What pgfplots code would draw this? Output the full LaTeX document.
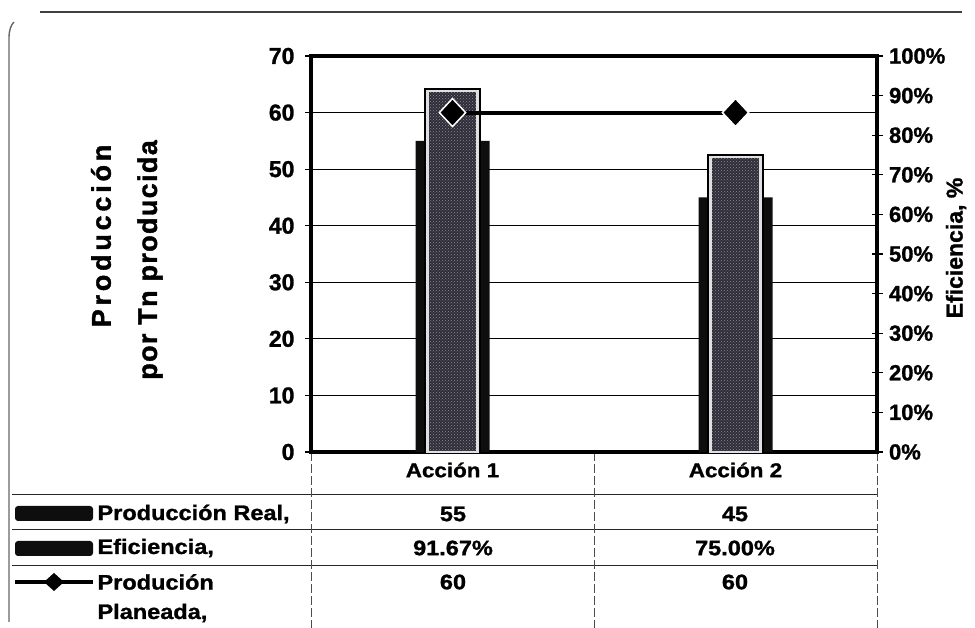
\documentclass[border=0pt]{standalone}
\usepackage{pgfplots}
\pgfplotsset{compat=1.18}
\usepackage{fontspec}
\setmainfont{Liberation Sans}
\newfontfamily\tblfont[FakeStretch=1.12, FakeBold=1.2]{Liberation Sans}
\newfontfamily\tckfont[FakeBold=1.2]{Liberation Sans}
\newfontfamily\ttlfont[LetterSpace=5, FakeBold=1.5]{Liberation Sans}
\newfontfamily\ttlfontw[LetterSpace=14, FakeBold=1.5]{Liberation Sans}
\usetikzlibrary{patterns}
\definecolor{effill}{HTML}{302D3B}
\definecolor{barblk}{HTML}{0E0E0E}
\begin{document}
\begin{tikzpicture}[x=1pt,y=1pt]
\useasboundingbox (0,0) rectangle (975,628);
% outer frame
\draw[line width=1.2pt, black!75] (40,616) -- (962,616);
\draw[line width=1.4pt, black!60] (9,6) -- (9,590) .. controls (9,598) and (11,603) .. (14,606);
% table lines
\draw[line width=1pt, black!85] (12,133) -- (877,133);
\draw[line width=1pt, black!85] (12,98) -- (877,98);
\draw[line width=1pt, black!85] (12,62) -- (877,62);
\foreach \xx in {311,594,877} {\draw[line width=0.8pt, black!70, dash pattern=on 9pt off 3pt] (\xx,176) -- (\xx,0);}
% axis 1: left scale, black bars
\begin{axis}[at={(311pt,176pt)}, anchor=south west, scale only axis,
  width=566pt, height=396pt,
  xmin=-0.5, xmax=1.5, ymin=0, ymax=70,
  xtick={0,1}, xticklabels={Acción 1, Acción 2},
  xtick pos=bottom, ytick pos=left,
  x tick style={draw=none},
  ytick={0,10,...,70},
  tick align=outside, major tick length=6pt,
  y tick style={line width=1.2pt, black},
  ymajorgrids, grid style={black, line width=1pt},
  axis line style={line width=3.5pt, black},
  yticklabel style={font=\tckfont\fontsize{23}{23}\selectfont\bfseries, xshift=-7pt},
  xticklabel style={font=\tblfont\fontsize{20}{20}\selectfont\bfseries, yshift=-1pt},
  /pgf/number format/assume math mode=true,
  clip=false]
\addplot[ybar, bar shift=0pt, bar width=74pt, fill=barblk, draw=none] coordinates {(0,55) (1,45)};
\end{axis}
% axis 2: right scale, efficiency bars
\begin{axis}[at={(311pt,176pt)}, anchor=south west, scale only axis,
  width=566pt, height=396pt,
  xmin=-0.5, xmax=1.5, ymin=0, ymax=100,
  axis x line=none, axis y line*=right,
  ytick={0,10,...,100},
  yticklabel={\pgfmathprintnumber{\tick}\%},
  tick align=center, major tick length=11pt,
  y tick style={line width=1.2pt, black},
  axis line style={line width=3.5pt, black},
  yticklabel style={font=\tckfont\fontsize{22}{22}\selectfont\bfseries, xshift=3pt},
  /pgf/number format/assume math mode=true,
  clip=false]
\addplot[ybar, bar shift=0pt, bar width=56pt, fill=black, draw=black, line width=1pt] coordinates {(0,91.67) (1,75)};
\addplot[ybar, bar shift=0pt, bar width=50pt, fill=effill, draw=black!12, line width=2.5pt,
  postaction={pattern=crosshatch dots, pattern color=black!45}] coordinates {(0,91.15) (1,74.5)};
\end{axis}
% axis 3: planned production line
\begin{axis}[at={(311pt,176pt)}, anchor=south west, scale only axis,
  width=566pt, height=396pt,
  xmin=-0.5, xmax=1.5, ymin=0, ymax=70, hide axis, clip=false]
\addplot[black, line width=4pt, mark=diamond*, mark size=14pt,
  mark options={fill=black, draw=white, line width=1.5pt, xscale=1.25}] coordinates {(0,60) (1,60)};
\end{axis}
% axis titles
\node[rotate=90, font=\ttlfontw\fontsize{27}{27}\selectfont\bfseries] at (101,392) {Producción};
\node[rotate=90, font=\ttlfont\fontsize{27}{27}\selectfont\bfseries] at (150,368) {por Tn producida};
\node[rotate=90, font=\tckfont\fontsize{23}{23}\selectfont\bfseries] at (956,380) {Eficiencia, \%};
% data table
\begin{scope}[every node/.style={font=\tblfont\fontsize{21}{21}\selectfont\bfseries}]
\node at (453,114) {55};
\node at (735,114) {45};
\node at (453,80) {91.67\%};
\node at (735,80) {75.00\%};
\node at (453,46) {60};
\node at (735,46) {60};
\node[anchor=west] at (94,114) {Producción Real,};
\node[anchor=west] at (94,80) {Eficiencia,};
\node[anchor=west] at (94,46) {Produción};
\node[anchor=west] at (94,15) {Planeada,};
\end{scope}
% legend keys
\fill[barblk, rounded corners=3pt] (15,107) rectangle (93,122);
\fill[barblk, rounded corners=3pt] (15,72) rectangle (93,87);
\draw[black, line width=4pt] (15,46) -- (93,46);
\fill[black] (54,55) -- (64,46) -- (54,37) -- (44,46) -- cycle;
\end{tikzpicture}
\end{document}
